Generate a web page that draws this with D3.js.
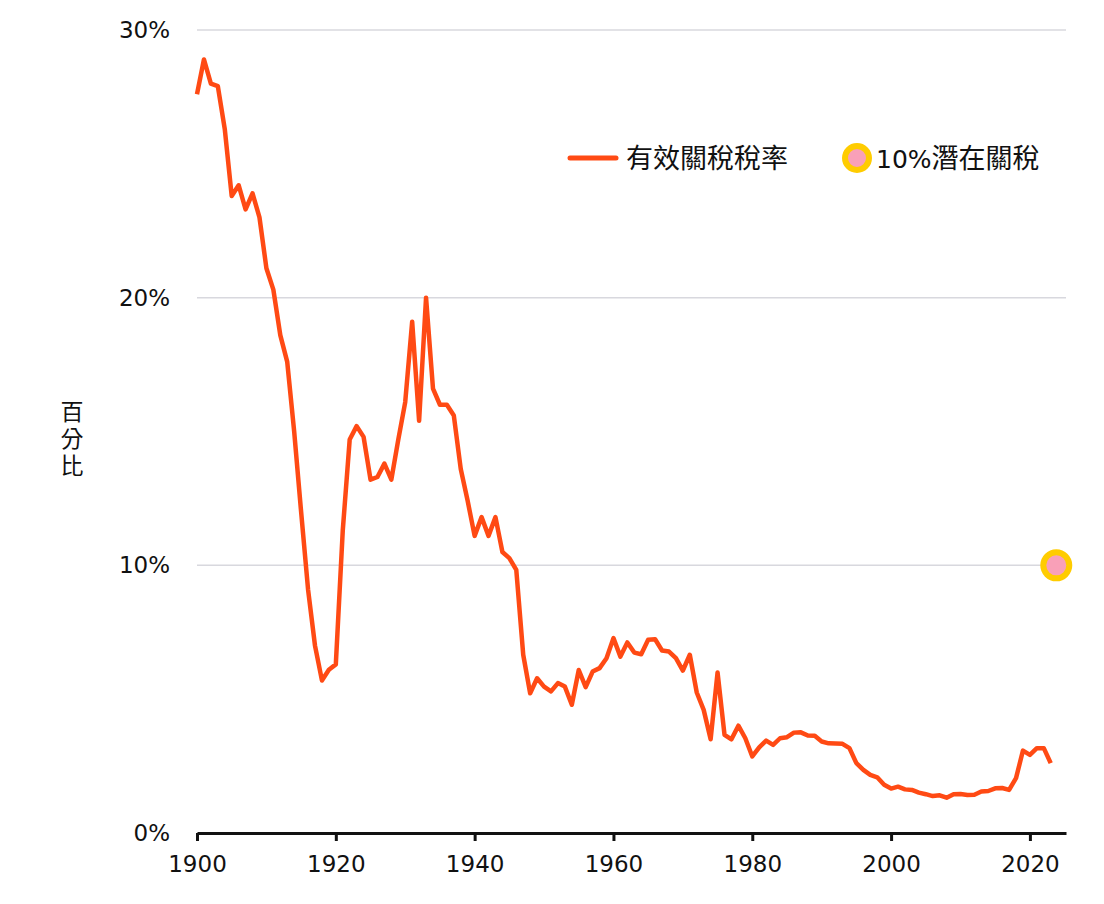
<!DOCTYPE html>
<html><head><meta charset="utf-8">
<script src="https://cdn.jsdelivr.net/npm/d3@7"></script>
<style>body{margin:0;background:#fff}text{font-family:"Noto Sans CJK TC","Noto Sans",sans-serif;fill:#111}.num{font-family:"DejaVu Sans","Noto Sans",sans-serif}</style>
</head><body><svg id="c" width="1104" height="904"></svg>
<script>
const startYear = 1900;
const tariffRate = [27.6,28.9,28.0,27.9,26.3,23.8,24.2,23.3,23.9,23.0,
21.1,20.3,18.6,17.6,15.0,12.0,9.1,7.0,5.7,6.1,
6.3,11.3,14.7,15.2,14.8,13.2,13.3,13.8,13.2,14.7,
16.1,19.1,15.4,20.0,16.6,16.0,16.0,15.6,13.6,12.4,
11.1,11.8,11.1,11.8,10.5,10.27,9.83,6.66,5.22,5.78,
5.47,5.29,5.6,5.47,4.79,6.09,5.45,6.03,6.16,6.53,
7.28,6.59,7.12,6.74,6.68,7.22,7.24,6.82,6.78,6.53,
6.07,6.66,5.25,4.6,3.5,6.0,3.67,3.5,4.01,3.54,
2.86,3.2,3.45,3.29,3.54,3.58,3.75,3.76,3.64,3.63,
3.42,3.35,3.34,3.33,3.17,2.61,2.36,2.17,2.08,1.8,
1.66,1.73,1.63,1.61,1.51,1.45,1.38,1.41,1.32,1.45,
1.46,1.42,1.43,1.55,1.57,1.67,1.68,1.61,2.05,3.08,
2.92,3.17,3.17,2.61];
const potential = [{year:2023.8, value:10}];
const xTicks = [1900,1920,1940,1960,1980,2000,2020];
const yTicks = [0,10,20,30];
const seriesNames = ["有效關稅稅率","10%潛在關稅"];
const yTitle = "百分比";

const svg = d3.select("#c");
const x = d3.scaleLinear().domain([1900,2025.2]).range([197,1066]);
const y = d3.scaleLinear().domain([0,30]).range([833,30]);

svg.append("g").selectAll("line").data(yTicks.filter(d=>d>0)).join("line")
 .attr("x1",197).attr("x2",1066).attr("y1",d=>y(d)).attr("y2",d=>y(d))
 .attr("stroke","#d8d8de").attr("stroke-width",1.5);
svg.append("g").selectAll("text").data(yTicks).join("text").attr("class","num")
 .attr("x",170).attr("y",d=>y(d)+8).attr("text-anchor","end")
 .attr("font-size",23).text(d=>d+"%");

const xa = svg.append("g").attr("transform","translate(0,833)")
 .call(d3.axisBottom(x).tickValues(xTicks).tickFormat(d3.format("d")).tickSize(8).tickSizeOuter(0));
xa.select(".domain").attr("stroke","#111").attr("stroke-width",3);
xa.selectAll(".tick line").attr("stroke","#111").attr("stroke-width",3);
xa.selectAll(".tick text").attr("class","num").attr("font-size",23).attr("dy","1.2em").attr("fill","#111");

const t = svg.append("text").attr("x",72).attr("font-size",23).attr("text-anchor","middle");
yTitle.split("").forEach((ch,i)=>t.append("tspan").attr("x",72).attr("y",420+i*27).text(ch));

const data = tariffRate.map((v,i)=>({year:startYear+i,value:v}));
svg.append("path").datum(data)
 .attr("d",d3.line().x(d=>x(d.year)).y(d=>y(d.value)))
 .attr("fill","none").attr("stroke","#ff4a14").attr("stroke-width",4.5).attr("stroke-linejoin","round");

svg.selectAll(".dot").data(potential).join("circle")
 .attr("cx",d=>x(d.year)).attr("cy",d=>y(d.value)).attr("r",13)
 .attr("fill","#f9a0b8").attr("stroke","#ffcc00").attr("stroke-width",6);

// legend
svg.append("line").attr("x1",570).attr("x2",616).attr("y1",158).attr("y2",158)
 .attr("stroke","#ff4a14").attr("stroke-width",5).attr("stroke-linecap","round");
svg.append("text").attr("x",626).attr("y",168).attr("font-size",27).text(seriesNames[0]);
svg.append("circle").attr("cx",857).attr("cy",158).attr("r",12)
 .attr("fill","#f9a0b8").attr("stroke","#ffcc00").attr("stroke-width",6);
const l2 = svg.append("text").attr("x",876).attr("y",168).attr("font-size",27);
l2.append("tspan").attr("font-family","DejaVu Sans").attr("font-size",25).text("10%");
l2.append("tspan").text(seriesNames[1].slice(3));
</script></body></html>
